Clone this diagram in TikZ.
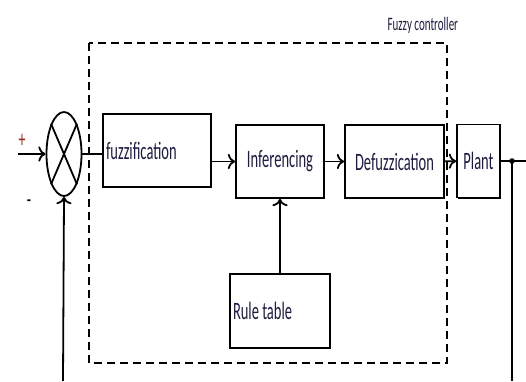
\documentclass[tikz,border=0pt]{standalone}
\usepackage{fontspec}
\newfontfamily\blockfont[FakeStretch=0.58]{Carlito}
\usepackage{tikz}
\usetikzlibrary{shadows}
\usetikzlibrary{arrows.meta,shapes}
\usetikzlibrary{calc}
\definecolor{inkblue}{RGB}{28,28,64}
\definecolor{signred}{RGB}{150,40,30}
\tikzstyle{block}=[rectangle,draw=black,fill=white,line width=1.8pt,minimum height=73pt,inner sep=3pt,font=\blockfont\fontsize{25}{28}\selectfont,text=inkblue,drop shadow={shadow xshift=1.2pt,shadow yshift=-1.2pt,opacity=1,fill=black}]
\tikzstyle{sumpoint}=[ellipse,draw,line width=1.8pt,minimum width=35pt,minimum height=84pt,inner sep=0pt]
\tikzstyle{signal}=[line width=1.8pt]
\tikzstyle{frame}=[line width=1.8pt,dash pattern=on 8pt off 5pt]
\tikzstyle{sign}=[font=\blockfont\fontsize{24}{26}\selectfont]

\begin{document}
\begin{tikzpicture}[x=1pt,y=-1pt,>={To[scale=1.3]}]
\useasboundingbox (0,0) rectangle (526,381);

%Controller frame
    \draw[frame] (89,43) rectangle (447,363);
    \node[anchor=base west,font=\blockfont\fontsize{19}{22}\selectfont,text=inkblue] (title) at (384,30) {Fuzzy controller};

%Blocks
    \node[sumpoint] (sum) at (64,154) {};
    \draw[signal] (sum.north west) -- (sum.south east) (sum.north east) -- (sum.south west);
    \node[block,minimum width=108pt,text width=102pt,align=flush left] (fuzz) at (157,150.5) {fuzzification};
    \foreach \pos/\name/\label/\w in {{(280,161.5)/infer/Inferencing/88}, {(394.5,161.5)/defuzz/Defuzzication/99}, {(478.5,161)/plant/Plant/43}}
        \node[block,minimum width=\w pt] (\name) at \pos {\label};
    \node[block,minimum width=100pt,minimum height=74pt,text width=94pt,align=flush left] (rules) at (280,311) {Rule table};

%Signals
    \draw[signal] (sum.east) -- (fuzz.west |- sum.east);
    \draw[signal,->] (infer.west -| fuzz.east) -- (infer.west);
    \foreach \source/\dest in {infer/defuzz, defuzz/plant, rules/infer}
        \draw[signal,->] (\source) -- (\dest);

%Input and feedback
    \coordinate (in) at (18,154);
    \coordinate (fbin) at (63,381);
    \coordinate (out) at (526,161);
    \coordinate (branch) at (512,161);
    \coordinate (fbout) at (512,381);
    \draw[signal,->] (in) -- (sum.west);
    \draw[signal,->] (fbin) -- (sum.south);
    \draw[signal] (plant) -- (out);
    \draw[signal] (branch) -- (fbout);
    \fill (branch) circle (2.8);
    \node[sign,text=signred] (plus) at (22,141) {+};
    \node[sign] (minus) at (29,204) {-};

\end{tikzpicture}
\end{document}
